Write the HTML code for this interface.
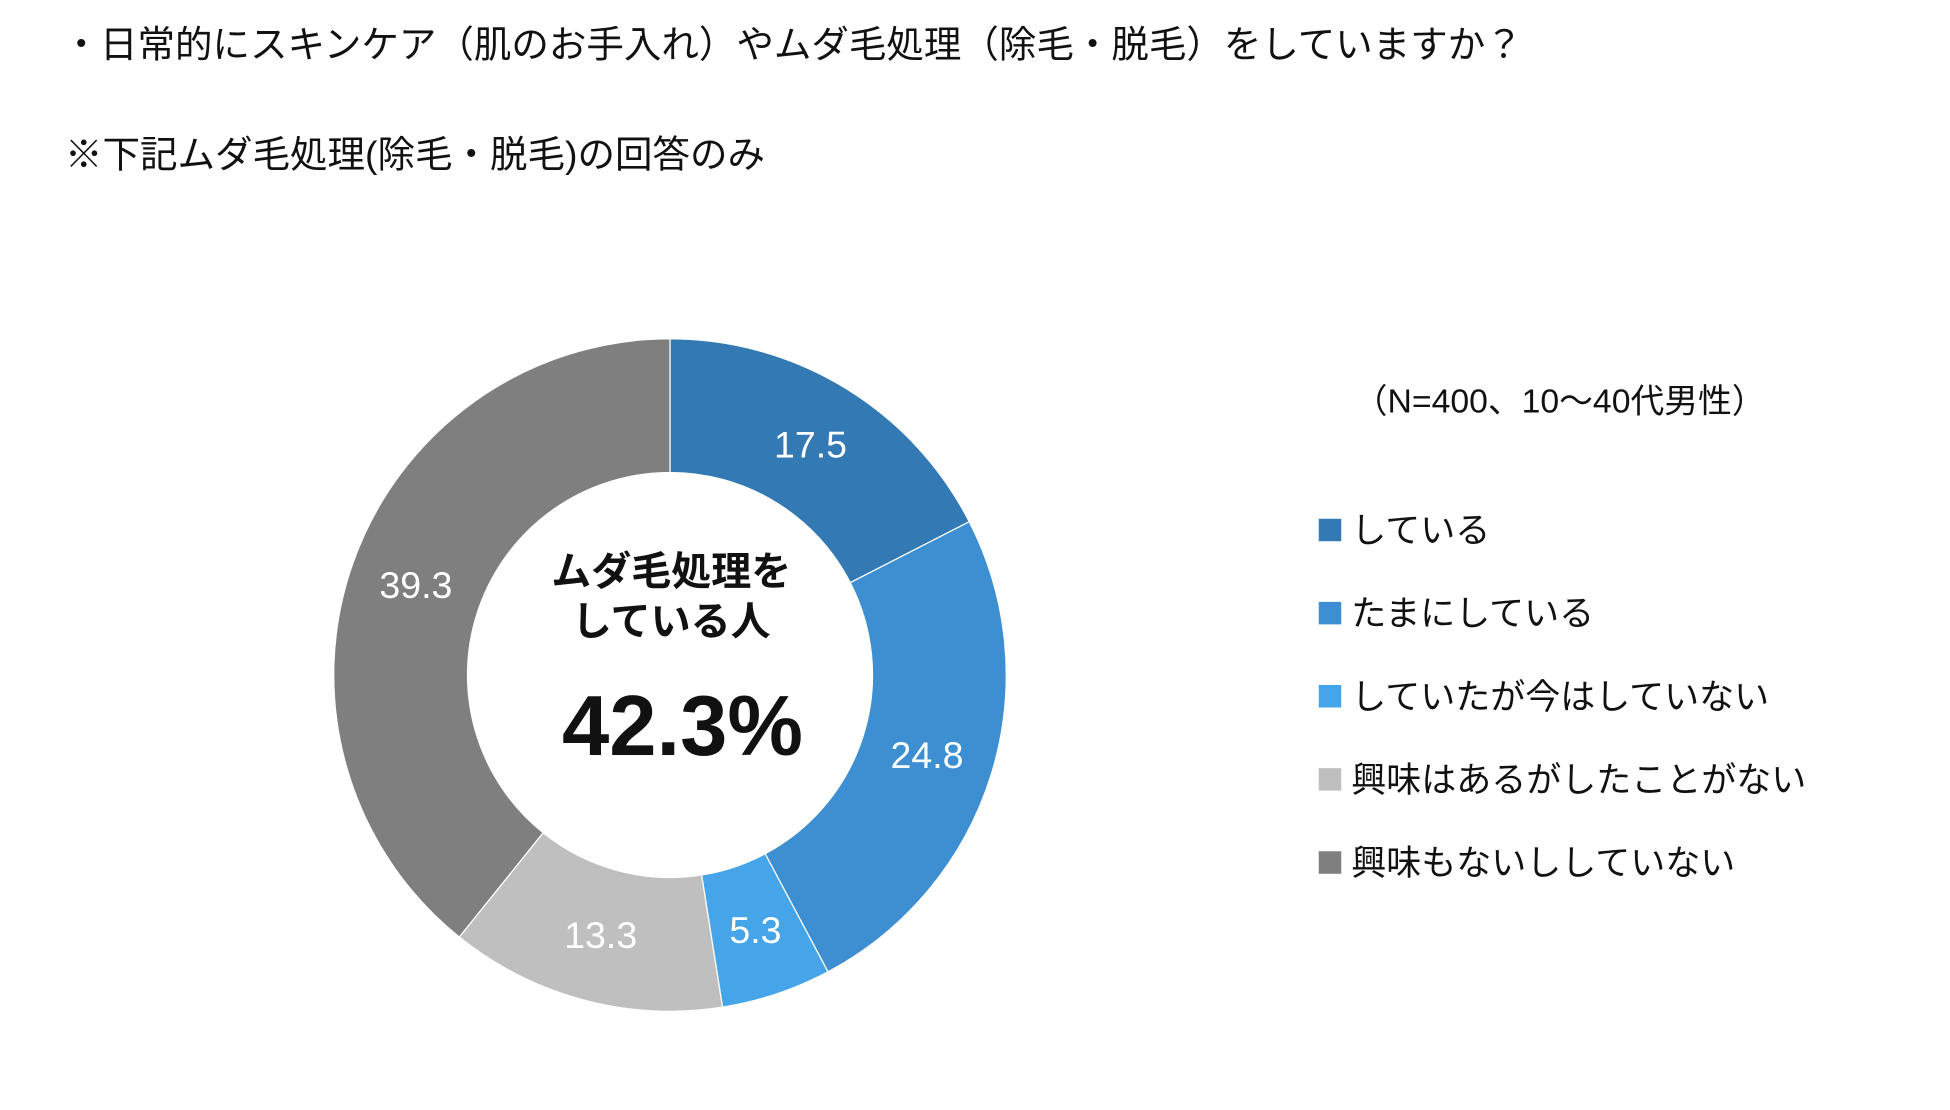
<!DOCTYPE html>
<html><head><meta charset="utf-8"><style>
html,body{margin:0;padding:0;background:#fff;}
svg{display:block;font-family:"Liberation Sans","Noto Sans CJK JP",sans-serif;}
</style></head><body>
<svg id="chart" width="1950" height="1110" viewBox="0 0 1560 888" xmlns="http://www.w3.org/2000/svg">
<text x="50" y="46" font-size="30" fill="#111">・日常的にスキンケア（肌のお手入れ）やムダ毛処理（除毛・脱毛）をしていますか？</text>
<text x="52" y="134" font-size="30" fill="#111">※下記ムダ毛処理(除毛・脱毛)の回答のみ</text>
<g id="slices"></g>
<g id="labels"></g>
<text x="537" y="468" font-size="32" font-weight="bold" text-anchor="middle" fill="#111">ムダ毛処理を</text>
<text x="537" y="508" font-size="32" font-weight="bold" text-anchor="middle" fill="#111">している人</text>
<text x="546" y="604" font-size="68" font-weight="bold" text-anchor="middle" fill="#111">42.3%</text>
<text x="1083" y="330" font-size="27" fill="#111">（N=400、10～40代男性）</text>
<g id="legend"></g>
</svg>
<script>
const categories = ["している","たまにしている","していたが今はしていない","興味はあるがしたことがない","興味もないししていない"];
const values = [17.5, 24.8, 5.3, 13.3, 39.3];
const colors = ["#3379b3","#3d8fd1","#46a4e8","#bfbfbf","#7f7f7f"];
const NS="http://www.w3.org/2000/svg";
const cx=536, cy=540, R=269, r=162;
const total=values.reduce((a,b)=>a+b,0);
function angle(v){return v/total*2*Math.PI;}
function pt(a,rad){return [cx+rad*Math.sin(a), cy-rad*Math.cos(a)];}
const gs=document.getElementById('slices'), gl=document.getElementById('labels'), gleg=document.getElementById('legend');
let acc=0;
values.forEach((v,i)=>{
  const a0=angle(acc), a1=angle(acc+v); acc+=v;
  const large=(a1-a0)>Math.PI?1:0;
  const [x0,y0]=pt(a0,R),[x1,y1]=pt(a1,R),[x2,y2]=pt(a1,r),[x3,y3]=pt(a0,r);
  const p=document.createElementNS(NS,'path');
  p.setAttribute('d',`M${x0},${y0}A${R},${R} 0 ${large} 1 ${x1},${y1}L${x2},${y2}A${r},${r} 0 ${large} 0 ${x3},${y3}Z`);
  p.setAttribute('fill',colors[i]);
  p.setAttribute('stroke','#fff');p.setAttribute('stroke-width','1');
  
  
  gs.appendChild(p);
  const am=(a0+a1)/2, [lx,ly]=pt(am,(R+r)/2);
  const t=document.createElementNS(NS,'text');
  t.setAttribute('x',lx);t.setAttribute('y',ly+10);
  t.setAttribute('text-anchor','middle');t.setAttribute('font-size','30');t.setAttribute('fill','#fff');
  t.textContent=v.toFixed(1);
  
  
  gl.appendChild(t);
  const y=424+i*66.5;
  const sq=document.createElementNS(NS,'rect');
  sq.setAttribute('x',1055);sq.setAttribute('y',y-9);sq.setAttribute('width',18);sq.setAttribute('height',18);sq.setAttribute('fill',colors[i]);
  
  
  gleg.appendChild(sq);
  const lt=document.createElementNS(NS,'text');
  lt.setAttribute('x',1081);lt.setAttribute('y',y+10);lt.setAttribute('font-size','28');lt.setAttribute('fill','#111');
  lt.textContent=categories[i];
  
  
  gleg.appendChild(lt);
});
</script>
</body></html>
